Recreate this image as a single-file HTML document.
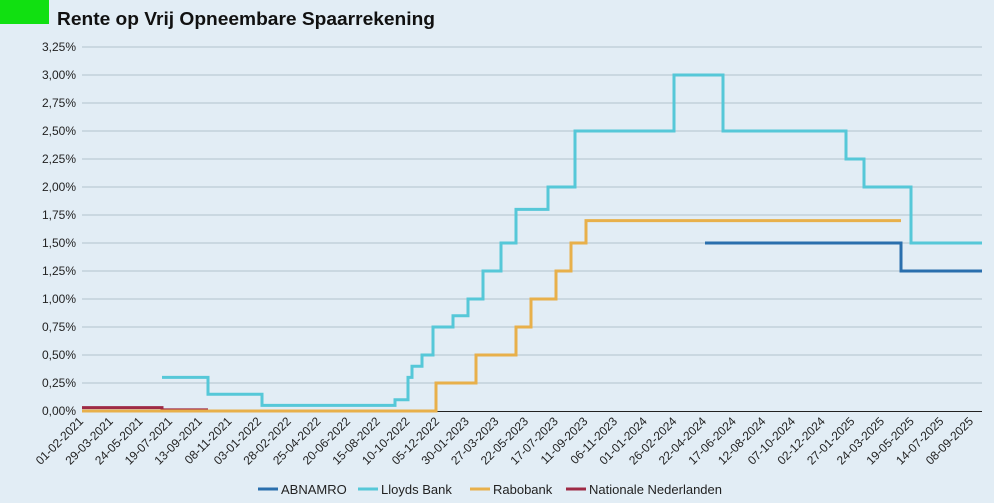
<!DOCTYPE html>
<html><head><meta charset="utf-8"><style>
html,body{margin:0;padding:0;background:#e2edf5;}
svg{display:block;font-family:"Liberation Sans",sans-serif;}
</style></head><body>
<svg width="994" height="503" viewBox="0 0 994 503" xmlns="http://www.w3.org/2000/svg">
<rect width="994" height="503" fill="#e2edf5"/>
<rect x="0" y="0" width="49" height="24" fill="#11e011"/>
<text x="57" y="25" font-size="18" font-weight="bold" fill="#111" textLength="378" lengthAdjust="spacingAndGlyphs">Rente op Vrij Opneembare Spaarrekening</text>
<g stroke="#b3c2cd" stroke-width="1">
<line x1="82" x2="982" y1="47" y2="47"/><line x1="82" x2="982" y1="75" y2="75"/>
<line x1="82" x2="982" y1="103" y2="103"/><line x1="82" x2="982" y1="131" y2="131"/>
<line x1="82" x2="982" y1="159" y2="159"/><line x1="82" x2="982" y1="187" y2="187"/>
<line x1="82" x2="982" y1="215" y2="215"/><line x1="82" x2="982" y1="243" y2="243"/>
<line x1="82" x2="982" y1="271" y2="271"/><line x1="82" x2="982" y1="299" y2="299"/>
<line x1="82" x2="982" y1="327" y2="327"/><line x1="82" x2="982" y1="355" y2="355"/>
<line x1="82" x2="982" y1="383" y2="383"/>
</g>
<line x1="82" x2="982" y1="411.5" y2="411.5" stroke="#222" stroke-width="1"/>
<g font-size="12" fill="#222" text-anchor="end">
<text x="76" y="51">3,25%</text><text x="76" y="79">3,00%</text><text x="76" y="107">2,75%</text>
<text x="76" y="135">2,50%</text><text x="76" y="163">2,25%</text><text x="76" y="191">2,00%</text>
<text x="76" y="219">1,75%</text><text x="76" y="247">1,50%</text><text x="76" y="275">1,25%</text>
<text x="76" y="303">1,00%</text><text x="76" y="331">0,75%</text><text x="76" y="359">0,50%</text>
<text x="76" y="387">0,25%</text><text x="76" y="415">0,00%</text>
</g>
<g fill="none" stroke-width="3" stroke-linejoin="miter">
<polyline stroke="#9e2a45" points="82,407.6 162,407.6 162,409.9 208,409.9"/>
<polyline stroke="#e8b04a" points="82,411 436,411 436,383 476,383 476,355 516,355 516,327 531,327 531,299 556,299 556,271 571,271 571,243 586,243 586,220.6 901,220.6"/>
<polyline stroke="#56c8d8" points="162,377.4 208,377.4 208,394.2 262,394.2 262,405.4 395,405.4 395,399.8 408,399.8 408,377.4 412,377.4 412,366.2 422,366.2 422,355 433,355 433,327 453,327 453,315.8 468,315.8 468,299 483,299 483,271 501,271 501,243 516,243 516,209.4 548,209.4 548,187 575,187 575,131 674,131 674,75 723,75 723,131 846,131 846,159 864,159 864,187 911,187 911,243 982,243"/>
<polyline stroke="#2a6fad" points="705,243 901,243 901,271 982,271"/>
</g>
<g font-size="13" fill="#222">
<line x1="258" x2="278" y1="489" y2="489" stroke="#2a6fad" stroke-width="3"/><text x="281" y="494">ABNAMRO</text>
<line x1="358" x2="378" y1="489" y2="489" stroke="#56c8d8" stroke-width="3"/><text x="381" y="494">Lloyds Bank</text>
<line x1="470" x2="490" y1="489" y2="489" stroke="#e8b04a" stroke-width="3"/><text x="493" y="494">Rabobank</text>
<line x1="566" x2="586" y1="489" y2="489" stroke="#9e2a45" stroke-width="3"/><text x="589" y="494">Nationale Nederlanden</text>
</g>
<g font-size="12" fill="#222" text-anchor="end">
<text transform="translate(84.0,422) rotate(-45)">01-02-2021</text>
<text transform="translate(113.7,422) rotate(-45)">29-03-2021</text>
<text transform="translate(143.3,422) rotate(-45)">24-05-2021</text>
<text transform="translate(173.0,422) rotate(-45)">19-07-2021</text>
<text transform="translate(202.7,422) rotate(-45)">13-09-2021</text>
<text transform="translate(232.3,422) rotate(-45)">08-11-2021</text>
<text transform="translate(262.0,422) rotate(-45)">03-01-2022</text>
<text transform="translate(291.7,422) rotate(-45)">28-02-2022</text>
<text transform="translate(321.3,422) rotate(-45)">25-04-2022</text>
<text transform="translate(351.0,422) rotate(-45)">20-06-2022</text>
<text transform="translate(380.7,422) rotate(-45)">15-08-2022</text>
<text transform="translate(410.3,422) rotate(-45)">10-10-2022</text>
<text transform="translate(440.0,422) rotate(-45)">05-12-2022</text>
<text transform="translate(469.7,422) rotate(-45)">30-01-2023</text>
<text transform="translate(499.3,422) rotate(-45)">27-03-2023</text>
<text transform="translate(529.0,422) rotate(-45)">22-05-2023</text>
<text transform="translate(558.7,422) rotate(-45)">17-07-2023</text>
<text transform="translate(588.3,422) rotate(-45)">11-09-2023</text>
<text transform="translate(618.0,422) rotate(-45)">06-11-2023</text>
<text transform="translate(647.7,422) rotate(-45)">01-01-2024</text>
<text transform="translate(677.3,422) rotate(-45)">26-02-2024</text>
<text transform="translate(707.0,422) rotate(-45)">22-04-2024</text>
<text transform="translate(736.7,422) rotate(-45)">17-06-2024</text>
<text transform="translate(766.3,422) rotate(-45)">12-08-2024</text>
<text transform="translate(796.0,422) rotate(-45)">07-10-2024</text>
<text transform="translate(825.7,422) rotate(-45)">02-12-2024</text>
<text transform="translate(855.3,422) rotate(-45)">27-01-2025</text>
<text transform="translate(885.0,422) rotate(-45)">24-03-2025</text>
<text transform="translate(914.7,422) rotate(-45)">19-05-2025</text>
<text transform="translate(944.3,422) rotate(-45)">14-07-2025</text>
<text transform="translate(974.0,422) rotate(-45)">08-09-2025</text>
</g>
</svg>
</body></html>
